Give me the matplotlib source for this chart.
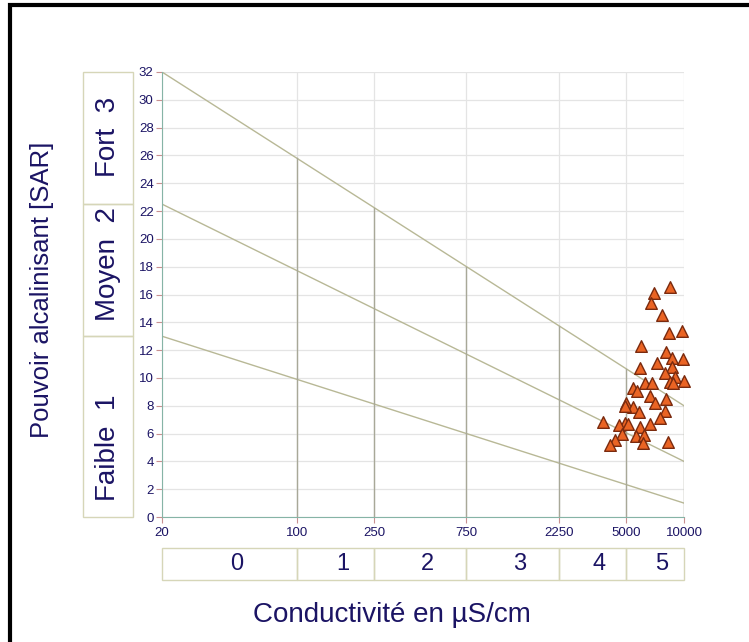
import numpy as np
import matplotlib
matplotlib.use("Agg")
import matplotlib.pyplot as plt
from matplotlib.patches import Rectangle
from matplotlib.ticker import FixedLocator, NullLocator
from matplotlib.transforms import offset_copy

plt.rcParams['font.family'] = ['Liberation Sans', 'DejaVu Sans']

# ---- data ----
cond = [8467, 7023, 6727, 7725, 8397, 9765, 5995, 8072, 8640, 9846, 7278, 5925,
        8640, 7976, 8985, 9950, 8467, 8804, 6285, 6857, 5430, 5737, 6671, 8043,
        7081, 5013, 5469, 5834, 7976, 7516, 4955, 3827, 4955, 4613, 5117, 6671,
        5925, 4764, 5648, 6233, 4399, 8238, 6115, 4145]
sar = [16.56, 16.09, 15.41, 14.55, 13.21, 13.35, 12.30, 11.87, 11.43, 11.34, 11.05, 10.69,
       10.81, 10.33, 10.09, 9.78, 9.73, 9.61, 9.66, 9.61, 9.25, 9.08, 8.70, 8.51,
       8.22, 8.18, 7.89, 7.57, 7.60, 7.12, 7.98, 6.85, 6.78, 6.59, 6.69, 6.69,
       6.45, 5.97, 5.82, 5.88, 5.54, 5.41, 5.30, 5.18]

x_bounds = [20, 100, 250, 750, 2250, 5000, 10000]
x_tick_labels = ['20', '100', '250', '750', '2250', '5000', '10000']
cond_classes = ['0', '1', '2', '3', '4', '5']

line_start = [32, 22.5, 13]   # SAR at 20 uS/cm
line_end = [8, 4, 1]          # SAR at 10000 uS/cm
sar_bounds = [0, 13, 22.5, 32]
sar_classes = ['Faible  1', 'Moyen  2', 'Fort  3']
sar_label_pos = [5.0, 18.2, 27.3]

navy = '#1b1464'
W, H = 749, 642
fig = plt.figure(figsize=(W / 100, H / 100), dpi=100)
fig.patch.set_facecolor('white')

# outer black frame
fig.add_artist(Rectangle((9.5 / W, -0.2), 1.5, (H - 5) / H + 0.2, transform=fig.transFigure,
                         fill=False, edgecolor='black', lw=3))

ax = fig.add_axes([162 / W, 125 / H, 522 / W, 445 / H])
ax.set_xscale('log')
ax.set_xlim(20, 10000)
ax.set_ylim(0, 32)

# horizontal grid
for yv in range(0, 33, 2):
    ax.axhline(yv, color='#e4e4e4', lw=0.9, zorder=0)
for xv in x_bounds:
    ax.axvline(xv, color='#e4e4e4', lw=0.9, zorder=0)

# diagonal lines (straight in log-x)
lx0, lx1 = np.log10(x_bounds[0]), np.log10(x_bounds[-1])
for s, e in zip(line_start, line_end):
    ax.plot([x_bounds[0], x_bounds[-1]], [s, e], color='#b8b896', lw=1.0, zorder=1)

# vertical segments below top line
s, e = line_start[0], line_end[0]
for xv in x_bounds[1:]:
    ytop = s + (e - s) * (np.log10(xv) - lx0) / (lx1 - lx0)
    ax.plot([xv, xv], [0, ytop], color='#a8a898', lw=1.0, zorder=1)

ax.scatter(cond, sar, marker='^', s=70, facecolor='#ea6424', edgecolor='#7a2a0e',
           linewidths=1.0, zorder=3, clip_on=False)

for side in ['top', 'right']:
    ax.spines[side].set_visible(False)
ax.spines['left'].set_color('#86b4a6')
ax.spines['bottom'].set_color('#86b4a6')
ax.xaxis.set_major_locator(FixedLocator(x_bounds))
ax.xaxis.set_minor_locator(NullLocator())
ax.set_xticklabels(x_tick_labels)
ax.set_yticks(range(0, 33, 2))
ax.tick_params(axis='both', colors='#c89090', length=4, width=0.8, labelsize=9.5,
               labelcolor=navy, pad=2)
ax.tick_params(axis='x', pad=3)

# left class boxes
axl = fig.add_axes([83 / W, 125 / H, 50 / W, 445 / H])
axl.set_xlim(0, 1)
axl.set_ylim(0, 32)
axl.axis('off')
for i, lab in enumerate(sar_classes):
    y0, y1 = sar_bounds[i], sar_bounds[i + 1]
    axl.add_patch(Rectangle((0, y0), 1, y1 - y0, fill=False, edgecolor='#d6d6b8', lw=1, clip_on=False))
    axl.text(0.5, sar_label_pos[i], lab, rotation=90, ha='center', va='center',
             fontsize=20, color=navy)

# bottom class boxes
axb = fig.add_axes([162 / W, 62 / H, 522 / W, 32 / H])
axb.set_xscale('log')
axb.set_xlim(20, 10000)
axb.set_ylim(0, 1)
axb.axis('off')
tr = offset_copy(axb.transData, fig=fig, x=7, y=0, units='dots')
for i, lab in enumerate(cond_classes):
    x0, x1 = x_bounds[i], x_bounds[i + 1]
    axb.add_patch(Rectangle((x0, 0), x1 - x0, 1, fill=False, edgecolor='#d6d6b8', lw=1, clip_on=False))
    axb.text(np.sqrt(x0 * x1), 0.5, lab, ha='center', va='center', fontsize=17, color=navy,
             transform=tr)

fig.text(42 / W, 1 - 290 / H, 'Pouvoir alcalinisant [SAR]', rotation=90, ha='center', va='center',
         fontsize=18.5, color=navy)
fig.text(392 / W, 1 - 615 / H, 'Conductivité en µS/cm', ha='center', va='center',
         fontsize=20, color=navy)

fig.savefig('out.png', dpi=100)
